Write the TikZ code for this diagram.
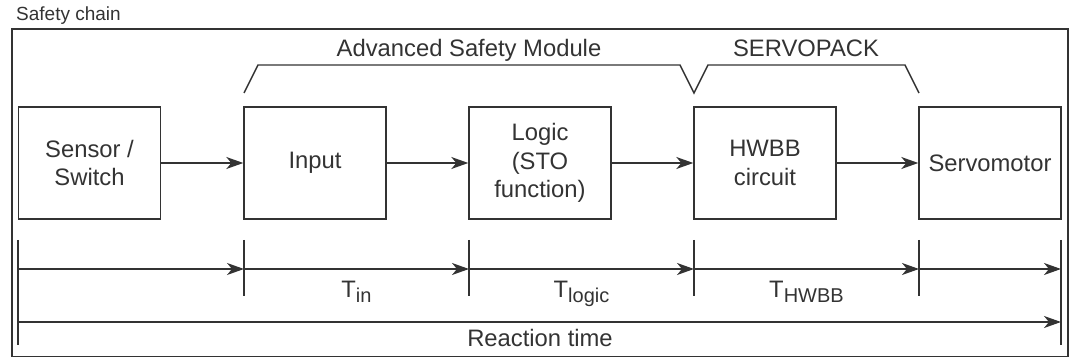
\documentclass[tikz,border=0pt]{standalone}
\usepackage{fontspec}
\setmainfont{Liberation Sans}
\usetikzlibrary{arrows.meta}
\definecolor{ink}{HTML}{333333}
\newcommand{\sub}[1]{\raisebox{-4.5pt}{\fontsize{20}{20}\selectfont #1}}
\tikzset{
  line/.style={draw=ink, line width=1.4pt},
  arr/.style={line, -{Stealth[length=17pt,width=12pt,inset=5pt]}},
  blk/.style={line, minimum width=142pt, minimum height=112pt, inner sep=0pt,
    align=center, text=ink, font=\fontsize{23.8}{28.5}\selectfont},
  lbl/.style={text=ink, inner sep=0pt, anchor=base, font=\fontsize{23.8}{28.5}\selectfont},
}
\begin{document}
\begin{tikzpicture}[x=1pt,y=-1pt]
\useasboundingbox (0,0) rectangle (1074,358);

% outer frame
\node[text=ink, inner sep=0pt, anchor=base west, font=\fontsize{19}{19}\selectfont] (title) at (16,21) {Safety chain};
\draw[line] (12,29) rectangle (1068,356.5);

% blocks
\node[blk] (sensor) at (89.5,163) {Sensor /\\Switch};
\node[blk] (input) at (315,163) {Input};
\node[blk] (logic) at (540,163) {Logic\\(STO\\function)};
\node[blk] (hwbb) at (765,163) {HWBB\\circuit};
\node[blk] (motor) at (990,163) {Servomotor};

\draw[arr] (sensor) -- (input);
\draw[arr] (input) -- (logic);
\draw[arr] (logic) -- (hwbb);
\draw[arr] (hwbb) -- (motor);

% brackets
\draw[line, line join=miter] (244,93) -- (258,65) -- (680,65) -- (694,93) -- (708,65) -- (905,65) -- (919,93);
\node[lbl] (asm) at (469,57) {Advanced Safety Module};
\node[lbl] (spk) at (806,57) {SERVOPACK};

% time line
\coordinate (t0) at (18,269);
\coordinate (t1) at (244,269);
\coordinate (t2) at (469,269);
\coordinate (t3) at (694,269);
\coordinate (t4) at (919,269);
\coordinate (t5) at (1061,269);
\coordinate (r0) at (18,322);
\coordinate (r1) at (1061,322);

\draw[line] (18,240) -- (18,345);
\draw[line] (1061,240) -- (1061,345);
\foreach \x in {244,469,694,919}
  \draw[line] (\x,240) -- (\x,296);

\draw[arr] (t0) -- (t1);
\draw[arr] (t1) -- (t2);
\draw[arr] (t2) -- (t3);
\draw[arr] (t3) -- (t4);
\draw[arr] (t4) -- (t5);
\draw[arr] (r0) -- (r1);

\node[lbl] (tin) at (356.5,298) {T\sub{in}};
\node[lbl] (tlogic) at (581.5,298) {T\sub{logic}};
\node[lbl] (thwbb) at (806.5,298) {T\sub{HWBB}};
\node[lbl] (react) at (540,346) {Reaction time};
\end{tikzpicture}
\end{document}
